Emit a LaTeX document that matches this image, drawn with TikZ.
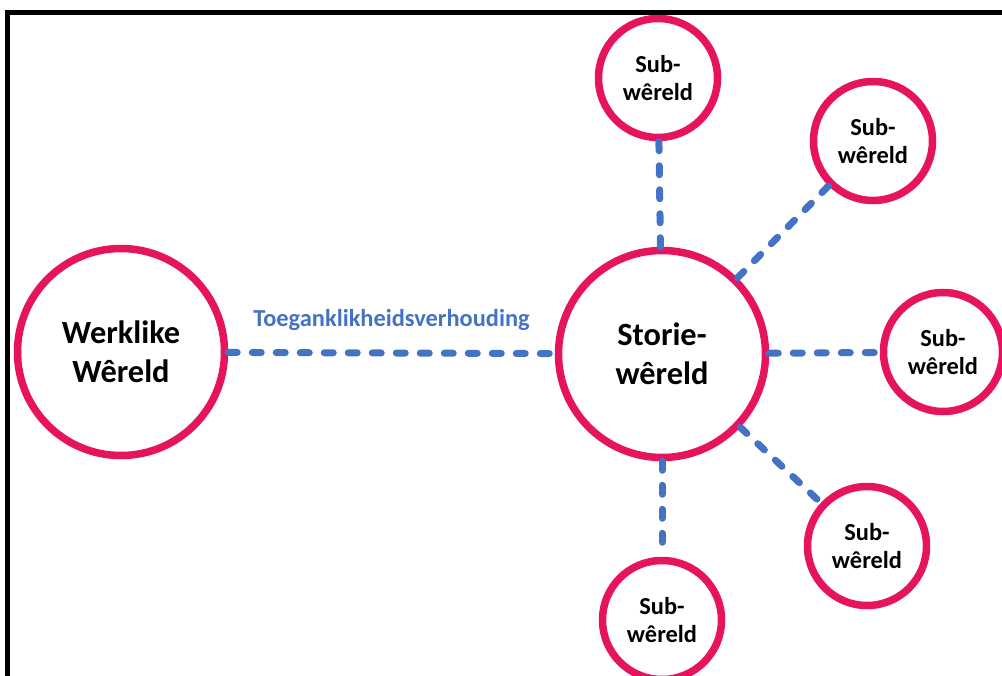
\documentclass[tikz,border=0pt]{standalone}
\usepackage{fontspec}
\setmainfont{Carlito}
\usetikzlibrary{positioning}
\definecolor{ringpink}{RGB}{230,20,95}
\definecolor{linkblue}{RGB}{68,114,196}

\begin{document}
\begin{tikzpicture}[
    x=1bp, y=-1bp,
    world/.style={circle, draw=ringpink, line width=7.5bp, minimum size=207bp, inner sep=0pt, align=center, font=\fontsize{32.5}{39}\selectfont\bfseries},
    subworld/.style={world, minimum size=119bp, font=\fontsize{24.5}{27.5}\selectfont\bfseries},
    link/.style={draw=linkblue, line width=7bp, line cap=round, dash pattern=on 9bp off 15bp},
    relation/.style={text=linkblue, inner sep=0pt, font=\fontsize{24.5}{29}\selectfont\bfseries}
  ]
    \useasboundingbox (0,0) rectangle (1002,676);
    \clip (0,0) rectangle (1002,676);
    % frame, only top and left edge show
    \draw[line width=5bp] (7.5,700) -- (7.5,12.5) -- (1020,12.5);

    \node[world] (real) at (121,352) {Werklike\\Wêreld};
    \node[world] (story) at (662,354) {Storie-\\wêreld};
    \node[subworld] (subN) at (658,78) {Sub-\\wêreld};
    \node[subworld] (subNE) at (873,141) {Sub-\\wêreld};
    \node[subworld] (subE) at (943,352) {Sub-\\wêreld};
    \node[subworld] (subSE) at (867,546) {Sub-\\wêreld};
    \node[subworld] (subS) at (662,620) {Sub-\\wêreld};

    \draw[link] (real) -- node[relation, above=19bp] (rel) {Toeganklikheidsverhouding} (story);
    \draw[link] (story) -- (subN);
    \draw[link] (story) -- (subNE);
    \draw[link] (story) -- (subE);
    \draw[link] (story) -- (subSE);
    \draw[link] (story) -- (subS);
\end{tikzpicture}
\end{document}
